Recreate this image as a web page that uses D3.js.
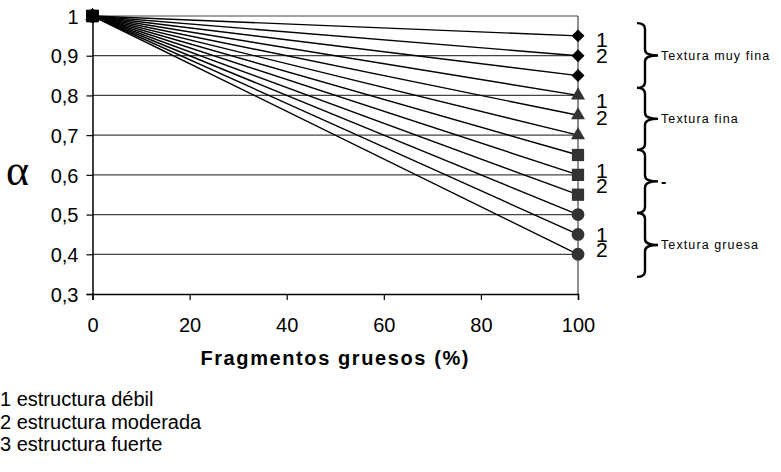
<!DOCTYPE html>
<html>
<head>
<meta charset="utf-8">
<script src="https://cdn.jsdelivr.net/npm/d3@7"></script>
<style>
  body { margin: 0; background: #fff; }
  text { font-family: "Liberation Sans", Arial, sans-serif; fill: #000; }
</style>
</head>
<body>
<svg id="chart" width="781" height="472"></svg>
<script>
// data
const fragmentos = [0, 100];
const xTicks = [0, 20, 40, 60, 80, 100];
const yTicks = [0.3, 0.4, 0.5, 0.6, 0.7, 0.8, 0.9, 1];
const alphaStart = 1;
const alphaDiamond = [0.95, 0.90, 0.85];
const alphaTriangle = [0.80, 0.75, 0.70];
const alphaSquare = [0.65, 0.60, 0.55];
const alphaCircle = [0.50, 0.45, 0.40];
const structLabels = ["1", "2"];
const structLabelAlpha = [[0.922, 0.882], [0.769, 0.726], [0.593, 0.555], [0.432, 0.392]];
const textureNames = ["Textura muy fina", "Textura fina", "-", "Textura gruesa"];
const braceRanges = [[0.982, 0.819], [0.819, 0.663], [0.663, 0.504], [0.504, 0.343]];
const legendLines = ["1 estructura débil", "2 estructura moderada", "3 estructura fuerte"];

const svg = d3.select("#chart");
const x = d3.scaleLinear().domain([0, 100]).range([92.5, 578]);
const y = d3.scaleLinear().domain([0.3, 1]).range([294, 16]);

// grid lines
svg.append("g").selectAll("line").data(yTicks.filter(d => d > 0.3))
  .join("line")
  .attr("x1", x(0)).attr("x2", x(100))
  .attr("y1", d => y(d)).attr("y2", d => y(d))
  .attr("stroke", "#444").attr("stroke-width", 1.2);

// right border
svg.append("line")
  .attr("x1", x(100)).attr("x2", x(100))
  .attr("y1", y(1)).attr("y2", y(0.3))
  .attr("stroke", "#444").attr("stroke-width", 1.2);

// axes
const yAxis = svg.append("g").attr("transform", `translate(${x(0)},0)`)
  .call(d3.axisLeft(y).tickValues(yTicks).tickSize(6).tickPadding(8)
    .tickFormat(d => d === 1 ? "1" : d3.format(".1f")(d).replace(".", ",")));
const xAxis = svg.append("g").attr("transform", `translate(0,${y(0.3)})`)
  .call(d3.axisBottom(x).tickValues(xTicks).tickSize(6).tickPadding(18));
[yAxis, xAxis].forEach(a => {
  a.select(".domain").attr("stroke", "#000").attr("stroke-width", 1.5);
  a.selectAll(".tick line").attr("stroke", "#000").attr("stroke-width", 1.2);
  a.selectAll("text").style("font-family", "Liberation Sans, Arial, sans-serif")
    .style("font-size", "20px").attr("fill", "#000");
});
yAxis.selectAll("text").attr("dy", "0.36em");

// custom marker: square standing on its corner
const diamondMark = {
  draw(ctx, size) {
    const r = Math.sqrt(size / 2);
    ctx.moveTo(0, -r); ctx.lineTo(r, 0); ctx.lineTo(0, r); ctx.lineTo(-r, 0); ctx.closePath();
  }
};

const groups = [
  { vals: alphaDiamond, shape: diamondMark, size: 84, fill: "#000" },
  { vals: alphaTriangle, shape: d3.symbolTriangle, size: 85, fill: "#333" },
  { vals: alphaSquare, shape: d3.symbolSquare, size: 150, fill: "#333" },
  { vals: alphaCircle, shape: d3.symbolCircle, size: 130, fill: "#333" }
];

// series lines
const line = d3.line().x(d => x(d[0])).y(d => y(d[1]));
groups.forEach(g => {
  g.vals.forEach(v => {
    svg.append("path")
      .datum([[fragmentos[0], alphaStart], [fragmentos[1], v]])
      .attr("d", line).attr("fill", "none")
      .attr("stroke", "#000").attr("stroke-width", 1.4);
  });
});
// markers
groups.slice().reverse().forEach(g => {
  g.vals.forEach(v => {
    [[fragmentos[0], alphaStart], [fragmentos[1], v]].forEach(p => {
      svg.append("path")
        .attr("d", d3.symbol().type(g.shape).size(g.size)())
        .attr("transform", `translate(${x(p[0])},${y(p[1])})`)
        .attr("fill", p[0] === 0 ? "#000" : g.fill);
    });
  });
});

// structure labels 1 / 2 beside each group
structLabelAlpha.forEach(pair => {
  pair.forEach((a, i) => {
    svg.append("text").attr("x", 596).attr("y", y(a))
      .style("font-size", "21px").text(structLabels[i]);
  });
});

// braces
const bx = 637, bw = 8, tip = 13;
braceRanges.forEach((r, i) => {
  const y0 = y(r[0]), y1 = y(r[1]), ym = (y0 + y1) / 2, rr = 6;
  const p = d3.path();
  p.moveTo(bx, y0);
  p.quadraticCurveTo(bx + bw, y0, bx + bw, y0 + rr);
  p.lineTo(bx + bw, ym - rr);
  p.quadraticCurveTo(bx + bw, ym, bx + bw + tip, ym);
  p.quadraticCurveTo(bx + bw, ym, bx + bw, ym + rr);
  p.lineTo(bx + bw, y1 - rr);
  p.quadraticCurveTo(bx + bw, y1, bx, y1);
  svg.append("path").attr("d", p.toString()).attr("fill", "none")
    .attr("stroke", "#000").attr("stroke-width", 2.4);
  const dash = textureNames[i] === "-";
  svg.append("text").attr("x", bx + bw + tip + 3).attr("y", ym).attr("dy", "0.35em")
    .style("font-size", dash ? "16px" : "12.5px")
    .style("font-weight", dash ? "bold" : "normal")
    .style("letter-spacing", "1.1px").text(textureNames[i]);
});

// axis titles
svg.append("text").attr("x", 6).attr("y", 185)
  .style("font-family", "Liberation Serif, serif").style("font-size", "44px").text("α");
svg.append("text").attr("x", (x(0) + x(100)) / 2).attr("y", 365)
  .attr("text-anchor", "middle").style("font-size", "20px").style("font-weight", "bold")
  .style("letter-spacing", "1.6px").text("Fragmentos gruesos (%)");

// legend notes
svg.append("g").selectAll("text").data(legendLines).join("text")
  .attr("x", 0).attr("y", (d, i) => 406 + i * 22.5)
  .style("font-size", "20px").text(d => d);
</script>
</body>
</html>
